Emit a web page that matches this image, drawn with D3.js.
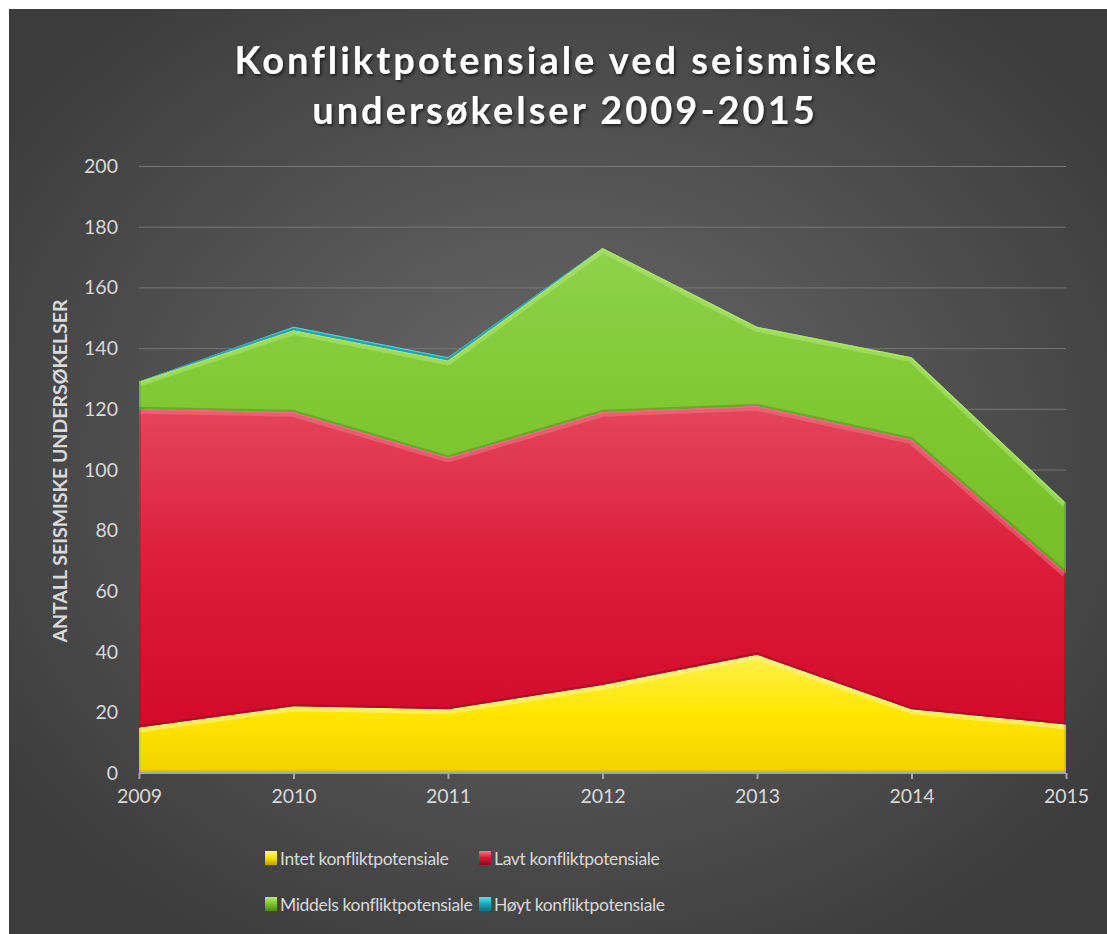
<!DOCTYPE html>
<html><head><meta charset="utf-8">
<script src="https://cdn.jsdelivr.net/npm/d3@7"></script>
<style>
html,body{margin:0;padding:0;background:#fff;}
svg{display:block;}
</style></head>
<body>
<svg id="chart" width="1107" height="934"></svg>
<script>
const years = [2009, 2010, 2011, 2012, 2013, 2014, 2015];
const intet = [15, 22, 21, 29, 39, 21, 16];
const lavt = [105, 97, 83, 90, 82, 89, 50];
const middels = [9, 27, 32, 54, 26, 27, 23];
const hoyt = [0, 1, 1, 0, 0, 0, 0];
const seriesNames = ["Intet konfliktpotensiale", "Lavt konfliktpotensiale", "Middels konfliktpotensiale", "Høyt konfliktpotensiale"];
const yTicks = [0, 20, 40, 60, 80, 100, 120, 140, 160, 180, 200];

const rows = years.map((y, i) => ({year: y, intet: intet[i], lavt: lavt[i], middels: middels[i], hoyt: hoyt[i]}));
const keys = ["intet", "lavt", "middels", "hoyt"];
const palette = {
  intet:   {top: "#fff04a", mid: "#ffe600", bot: "#f2d200", edge: "#fff8a0", dark: "#b8a000"},
  lavt:    {top: "#e4465d", mid: "#dc1c38", bot: "#d20a2a", edge: "#f07a88", dark: "#8a0a20"},
  middels: {top: "#8ed24a", mid: "#80c832", bot: "#76be28", edge: "#b4ea78", dark: "#4a8a18"},
  hoyt:    {top: "#20c0d0", mid: "#17b0c2", bot: "#0f9fb0", edge: "#60dae6", dark: "#0a7080"}
};
const FONT = "Lato, 'Open Sans', sans-serif";

const svg = d3.select("#chart");
const defs = svg.append("defs");

// background
const bg = defs.append("radialGradient").attr("id", "bg").attr("cx", "50%").attr("cy", "48%").attr("r", "62%");
bg.append("stop").attr("offset", "0%").attr("stop-color", "#6b6b6b");
bg.append("stop").attr("offset", "100%").attr("stop-color", "#3c3c3c");
svg.append("rect").attr("x", 9).attr("y", 9).attr("width", 1098).attr("height", 925).attr("fill", "url(#bg)");

const margin = {left: 139, right: 1066, top: 166, bottom: 773};
const x = d3.scalePoint().domain(years).range([margin.left, margin.right]);
const y = d3.scaleLinear().domain([0, 200]).range([margin.bottom, margin.top]);

// title
const title = svg.append("g").attr("font-family", FONT).attr("font-weight", "bold")
  .attr("font-size", 38).attr("fill", "#ffffff").attr("text-anchor", "middle").attr("letter-spacing", 3);
defs.append("filter").attr("id", "tshadow").append("feDropShadow")
  .attr("dx", 1.5).attr("dy", 2).attr("stdDeviation", 1.5).attr("flood-color", "#000").attr("flood-opacity", 0.6);
title.append("text").attr("x", 557).attr("y", 74).attr("filter", "url(#tshadow)").text("Konfliktpotensiale ved seismiske");
title.append("text").attr("x", 565).attr("y", 124).attr("filter", "url(#tshadow)").text("undersøkelser 2009-2015");

// gridlines
svg.append("g").selectAll("line").data(yTicks.filter(d => d > 0)).join("line")
  .attr("x1", margin.left).attr("x2", margin.right)
  .attr("y1", d => y(d) + 0.5).attr("y2", d => y(d) + 0.5)
  .attr("stroke", "#777777").attr("stroke-width", 1);

// y tick labels
svg.append("g").selectAll("text").data(yTicks).join("text")
  .attr("x", 118).attr("y", d => y(d) + 7)
  .attr("text-anchor", "end").attr("font-family", FONT).attr("font-size", 19.5)
  .attr("fill", "#d9d9d9").text(d => d);

// y axis title
svg.append("text").attr("transform", `translate(67,${471}) rotate(-90)`)
  .attr("text-anchor", "middle").attr("font-family", FONT).attr("font-weight", "bold")
  .attr("font-size", 19.5).attr("fill", "#d9d9d9").text("ANTALL SEISMISKE UNDERSØKELSER");

// stacked areas
const stack = d3.stack().keys(keys);
const stacked = stack(rows);
const area = d3.area().x(d => x(d.data.year)).y0(d => y(d[0])).y1(d => y(d[1]));
const topLine = d3.line().x(d => x(d.data.year)).y(d => y(d[1]));
const botLine = d3.line().x(d => x(d.data.year)).y(d => y(d[0]));

stacked.forEach(s => {
  const c = palette[s.key];
  const g = defs.append("linearGradient").attr("id", "g_" + s.key).attr("x1", 0).attr("y1", 0).attr("x2", 0).attr("y2", 1);
  g.append("stop").attr("offset", "0%").attr("stop-color", c.top);
  g.append("stop").attr("offset", "50%").attr("stop-color", c.mid);
  g.append("stop").attr("offset", "100%").attr("stop-color", c.bot);
  defs.append("clipPath").attr("id", "clip_" + s.key).append("path").attr("d", area(s));
});

const layers = svg.append("g");
stacked.forEach(s => {
  const c = palette[s.key];
  const lg = layers.append("g");
  lg.append("path").attr("d", area(s)).attr("fill", "url(#g_" + s.key + ")");
  const cl = lg.append("g").attr("clip-path", "url(#clip_" + s.key + ")");
  cl.append("path").attr("d", topLine(s)).attr("fill", "none").attr("stroke", c.edge)
    .attr("stroke-width", 10).attr("stroke-opacity", 0.5).attr("stroke-linejoin", "round");
  cl.append("path").attr("d", topLine(s)).attr("fill", "none").attr("stroke", c.edge)
    .attr("stroke-width", 3).attr("stroke-opacity", 0.6);
  cl.append("path").attr("d", botLine(s)).attr("fill", "none").attr("stroke", c.dark)
    .attr("stroke-width", s.key === "intet" ? 6 : 4).attr("stroke-opacity", s.key === "intet" ? 0.35 : 0.45);
  cl.append("line").attr("x1", margin.left).attr("x2", margin.left).attr("y1", margin.top).attr("y2", margin.bottom)
    .attr("stroke", c.dark).attr("stroke-width", 4).attr("stroke-opacity", 0.3);
  cl.append("line").attr("x1", margin.right).attr("x2", margin.right).attr("y1", margin.top).attr("y2", margin.bottom)
    .attr("stroke", c.dark).attr("stroke-width", 4).attr("stroke-opacity", 0.4);
});

// x axis
const xAxis = svg.append("g").attr("transform", `translate(0,${margin.bottom})`)
  .call(d3.axisBottom(x).tickSize(6).tickPadding(10));
xAxis.select(".domain").attr("stroke", "#a6a6a6").attr("stroke-width", 2).attr("d", `M${margin.left},0H${margin.right}`);
xAxis.selectAll(".tick line").attr("stroke", "#a6a6a6").attr("stroke-width", 2);
xAxis.selectAll(".tick text").attr("font-family", FONT).attr("font-size", 19.5)
  .attr("fill", "#d9d9d9");

// legend
const legendPos = [[265, 858], [479, 858], [265, 904], [479, 904]];
const legend = svg.append("g");
keys.forEach((k, i) => {
  const c = palette[k];
  const [lx, ly] = legendPos[i];
  const lgrad = defs.append("linearGradient").attr("id", "lg_" + k).attr("x1", 0).attr("y1", 0).attr("x2", 0).attr("y2", 1);
  lgrad.append("stop").attr("offset", "0%").attr("stop-color", c.edge);
  lgrad.append("stop").attr("offset", "45%").attr("stop-color", c.mid);
  lgrad.append("stop").attr("offset", "100%").attr("stop-color", c.dark);
  legend.append("rect").attr("x", lx).attr("y", ly - 7).attr("width", 12).attr("height", 14)
    .attr("fill", "url(#lg_" + k + ")");
  legend.append("text").attr("x", lx + 15).attr("y", ly + 6.5)
    .attr("font-family", FONT).attr("font-size", 17.5).attr("letter-spacing", -0.35).attr("fill", "#d9d9d9")
    .text(seriesNames[i]);
});
</script>
</body></html>
